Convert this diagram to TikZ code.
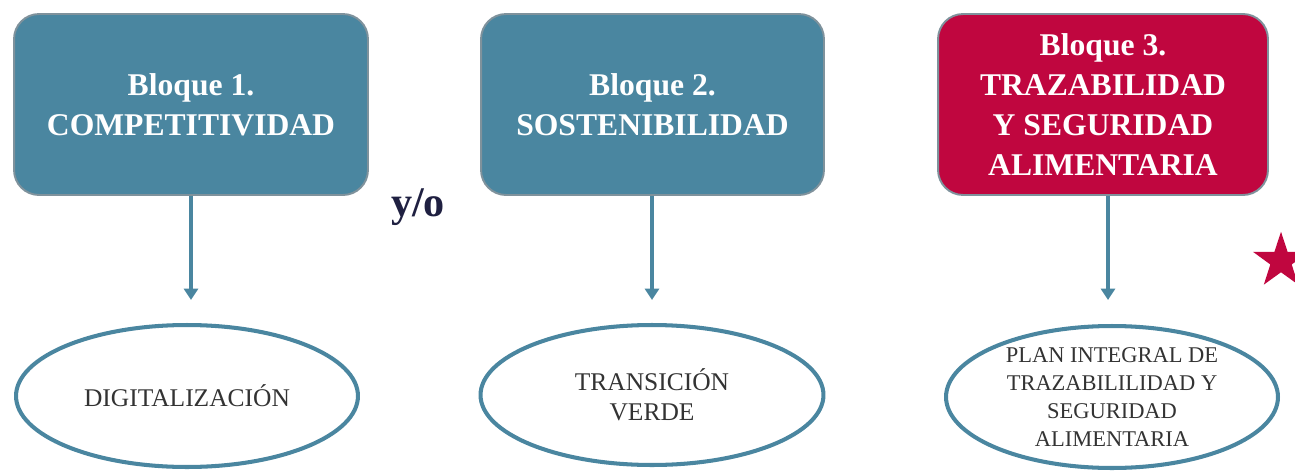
\documentclass[tikz,border=0pt]{standalone}
\usepackage{fontspec}
\setmainfont{Liberation Serif}
\usetikzlibrary{arrows.meta, shapes.geometric}
\definecolor{teal}{HTML}{4A86A0}
\definecolor{crimson}{HTML}{C0063F}
\definecolor{rim}{HTML}{7F929C}
\definecolor{navy}{HTML}{1F2041}
\definecolor{ink}{HTML}{333333}

\begin{document}
\begin{tikzpicture}[x=0.02cm, y=-0.02cm,
  bloque/.style = {rectangle, rounded corners=0.5cm, draw=rim, line width=1.1pt,
    fill=teal, text=white, align=center, minimum height=3.62cm,
    font=\fontsize{18}{22.8}\selectfont\bfseries},
  plan/.style = {ellipse, draw=teal, line width=2.3pt, fill=white, text=ink,
    align=center, inner sep=0pt, font=\fontsize{14.5}{17}\selectfont},
  flecha/.style = {draw=teal, line width=2.3pt, -{Triangle[width=8pt,length=6.5pt]}}]
\useasboundingbox (0,0) rectangle (1295,470);
\clip (0,0) rectangle (1295,470);
% bloques
\node[bloque, minimum width=7.08cm] (B1) at (191,104.5) {Bloque 1.\\COMPETITIVIDAD};
\node[bloque, minimum width=6.86cm] (B2) at (652.5,104.5) {Bloque 2.\\SOSTENIBILIDAD};
\node[bloque, minimum width=6.60cm, fill=crimson] (B3) at (1103,104.5)
  {Bloque 3.\\TRAZABILIDAD\\Y SEGURIDAD\\ALIMENTARIA};
\node[text=navy, font=\fontsize{24}{26}\selectfont\bfseries] (yo) at (418,207) {y/o};
% planes
\node[plan, minimum width=6.84cm, minimum height=2.84cm] (P1) at (187,396) {DIGITALIZACIÓN};
\node[plan, minimum width=6.86cm, minimum height=2.80cm] (P2) at (652,395) {TRANSICIÓN\\VERDE};
\node[plan, minimum width=6.64cm, minimum height=2.84cm,
  font=\fontsize{12.8}{16}\selectfont] (P3) at (1112,397)
  {PLAN INTEGRAL DE\\TRAZABILILIDAD Y\\SEGURIDAD\\ALIMENTARIA};
% flechas
\coordinate (F1) at (191,300);
\coordinate (F2) at (652,300);
\coordinate (F3) at (1108,300);
\draw[flecha] (B1.south -| F1) -- (F1);
\draw[flecha] (B2.south -| F2) -- (F2);
\draw[flecha] (B3.south -| F3) -- (F3);
% estrella
\node[star, star points=5, star point ratio=2.6, fill=crimson, draw=none,
  minimum size=1.17cm, inner sep=0pt] (S) at (1281,261) {};
\end{tikzpicture}
\end{document}
